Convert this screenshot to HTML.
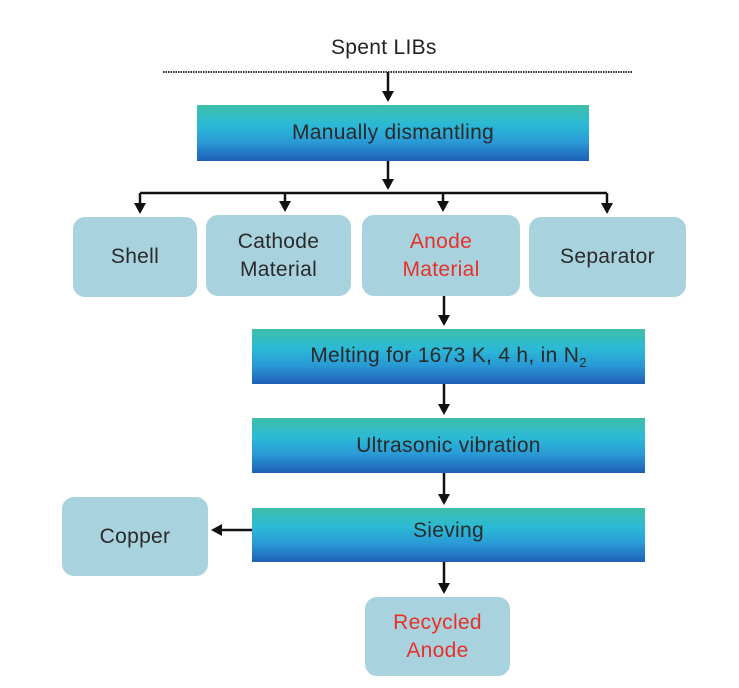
<!DOCTYPE html>
<html><head><style>
body{margin:0;width:739px;height:688px;background:#fff;position:relative;overflow:hidden;font-family:"Liberation Sans",sans-serif;}
.g{position:absolute;background:linear-gradient(#3fbfa8 0%,#2bbad6 35%,#2a9bd6 65%,#1f5fb8 100%);color:#2a2a2a;font-size:21px;letter-spacing:0.3px;display:flex;align-items:center;justify-content:center;}
.b{position:absolute;background:#a8d3de;border-radius:12px;color:#2a2a2a;font-size:21px;letter-spacing:0.3px;display:flex;align-items:center;justify-content:center;text-align:center;line-height:28px;}
.r{color:#e8302a;}
.t{position:absolute;font-size:21px;letter-spacing:0.3px;color:#222;}
svg{position:absolute;left:0;top:0;}
</style></head><body>
<div class="t" style="left:331px;top:36px;">Spent LIBs</div>
<div class="g" style="left:197px;top:105px;width:392px;height:56px;">Manually dismantling</div>
<div class="b" style="left:73px;top:217px;width:124px;height:80px;">Shell</div>
<div class="b" style="left:206px;top:215px;width:145px;height:81px;">Cathode<br>Material</div>
<div class="b r" style="left:362px;top:215px;width:158px;height:81px;">Anode<br>Material</div>
<div class="b" style="left:529px;top:217px;width:157px;height:80px;">Separator</div>
<div class="g" style="left:252px;top:329px;width:393px;height:55px;"><span>Melting for 1673 K, 4 h, in N<sub style="font-size:13px;vertical-align:-5px;">2</sub></span></div>
<div class="g" style="left:252px;top:418px;width:393px;height:55px;">Ultrasonic vibration</div>
<div class="g" style="left:252px;top:508px;width:393px;height:54px;padding-bottom:8px;box-sizing:border-box;">Sieving</div>
<div class="b" style="left:62px;top:497px;width:146px;height:79px;">Copper</div>
<div class="b r" style="left:365px;top:597px;width:145px;height:79px;">Recycled<br>Anode</div>
<svg width="739" height="688">
<defs><marker id="a" markerWidth="12" markerHeight="12" refX="7" refY="6" orient="auto" markerUnits="userSpaceOnUse"><path d="M0,0L11,6L0,12z" fill="#111"/></marker></defs>
<line x1="163" y1="72" x2="632" y2="72" stroke="#333" stroke-width="2" stroke-dasharray="1.5 1"/>
<g stroke="#111" stroke-width="2.5" fill="none">
<line x1="388" y1="72" x2="388" y2="98" marker-end="url(#a)"/>
<line x1="388" y1="161" x2="388" y2="186" marker-end="url(#a)"/>
<line x1="140" y1="193" x2="607" y2="193"/>
<line x1="140" y1="193" x2="140" y2="210" marker-end="url(#a)"/>
<line x1="285" y1="193" x2="285" y2="208" marker-end="url(#a)"/>
<line x1="443" y1="193" x2="443" y2="208" marker-end="url(#a)"/>
<line x1="607" y1="193" x2="607" y2="210" marker-end="url(#a)"/>
<line x1="444" y1="296" x2="444" y2="322" marker-end="url(#a)"/>
<line x1="444" y1="384" x2="444" y2="411" marker-end="url(#a)"/>
<line x1="444" y1="473" x2="444" y2="501" marker-end="url(#a)"/>
<line x1="444" y1="562" x2="444" y2="590" marker-end="url(#a)"/>
<line x1="252" y1="530" x2="215" y2="530" marker-end="url(#a)"/>
</g>
</svg>
</body></html>
